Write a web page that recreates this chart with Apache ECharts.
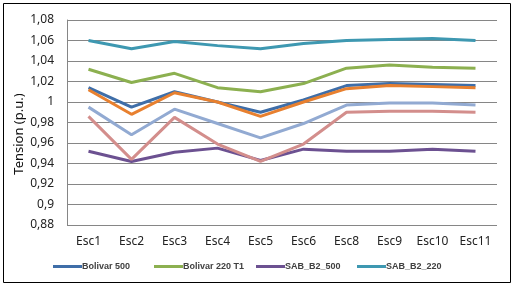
<!DOCTYPE html>
<html>
<head>
<meta charset="utf-8">
<script src="https://cdn.jsdelivr.net/npm/echarts@6/dist/echarts.min.js"></script>
<style>
html, body { margin: 0; padding: 0; background: #fff; }
#main { width: 516px; height: 287px; }
</style>
</head>
<body>
<div id="main"></div>
<script>
// escenarios (no hay Esc7)
const categories = ['Esc1', 'Esc2', 'Esc3', 'Esc4', 'Esc5', 'Esc6', 'Esc8', 'Esc9', 'Esc10', 'Esc11'];

const bolivar500   = [1.014, 0.995, 1.010, 1.000, 0.990, 1.002, 1.016, 1.018, 1.017, 1.016];
const bolivar220T1 = [1.032, 1.019, 1.028, 1.014, 1.010, 1.018, 1.033, 1.036, 1.034, 1.033];
const sabB2_500    = [0.952, 0.942, 0.951, 0.955, 0.943, 0.954, 0.952, 0.952, 0.954, 0.952];
const sabB2_220    = [1.060, 1.052, 1.059, 1.055, 1.052, 1.057, 1.060, 1.061, 1.062, 1.060];
const serieNaranja = [1.012, 0.988, 1.009, 1.000, 0.986, 1.000, 1.013, 1.016, 1.015, 1.014];
const serieCeleste = [0.995, 0.968, 0.993, 0.979, 0.965, 0.979, 0.997, 0.999, 0.999, 0.997];
const serieRosa    = [0.986, 0.944, 0.985, 0.959, 0.942, 0.959, 0.990, 0.991, 0.991, 0.990];

const yTicks = [0.88, 1.08, 0.02]; // min, max, interval

const legendNames = ['Bolivar 500', 'Bolivar 220 T1', 'SAB_B2_500', 'SAB_B2_220'];
const legendLeft = [53, 154, 256, 357];

const fontName = 'Noto Sans';

function mk(name, data, color) {
  return {
    name: name,
    type: 'line',
    data: data,
    symbol: 'none',
    lineStyle: { color: color, width: 3 },
    itemStyle: { color: color }
  };
}

// una leyenda por item para ubicarlas como en excel
const legends = legendNames.map((n, i) => ({
  data: [n],
  left: legendLeft[i],
  top: 262,
  padding: 0,
  itemWidth: 29,
  itemHeight: 3,
  icon: 'rect',
  textStyle: { fontSize: 9, fontWeight: 'bold', color: '#404040', fontFamily: 'Liberation Sans', padding: [0, 0, 0, -5] }
}));

const chart = echarts.init(document.getElementById('main'));
chart.setOption({
  animation: false,
  textStyle: { fontFamily: fontName },
  graphic: [{
    type: 'rect',
    shape: { x: 3.5, y: 3.5, width: 507, height: 279 },
    style: { fill: null, stroke: '#000', lineWidth: 1 }
  }, {
    type: 'text',
    x: 19,
    y: 134,
    rotation: Math.PI / 2,
    style: {
      text: 'Tension (p.u.)',
      font: '13px "Noto Sans"',
      fill: '#111',
      align: 'center',
      verticalAlign: 'middle'
    }
  }],
  grid: { left: 67, right: 19, top: 20, bottom: 62 },
  legend: legends,
  xAxis: {
    type: 'category',
    data: categories,
    boundaryGap: true,
    axisLine: { show: false },
    axisTick: { show: false },
    axisLabel: { fontSize: 12, color: '#222', margin: 11 }
  },
  yAxis: {
    type: 'value',
    min: yTicks[0],
    max: yTicks[1],
    interval: yTicks[2],
    axisLine: { show: true, lineStyle: { color: '#868686' } },
    axisTick: { show: false },
    axisLabel: {
      fontSize: 12, color: '#222', margin: 13,
      formatter: v => String(+v.toFixed(2)).replace('.', ',')
    },
    splitLine: { lineStyle: { color: '#868686', width: 1 } }
  },
  series: [
    mk('Bolivar 500', bolivar500, '#3F6EA8'),
    mk('Bolivar 220 T1', bolivar220T1, '#8CB050'),
    mk('SAB_B2_500', sabB2_500, '#6C5191'),
    mk('SAB_B2_220', sabB2_220, '#3E98B1'),
    mk('Serie 5', serieNaranja, '#E8802F'),
    mk('Serie 6', serieCeleste, '#92AAD2'),
    mk('Serie 7', serieRosa, '#D38E8C')
  ]
});
</script>
</body>
</html>
